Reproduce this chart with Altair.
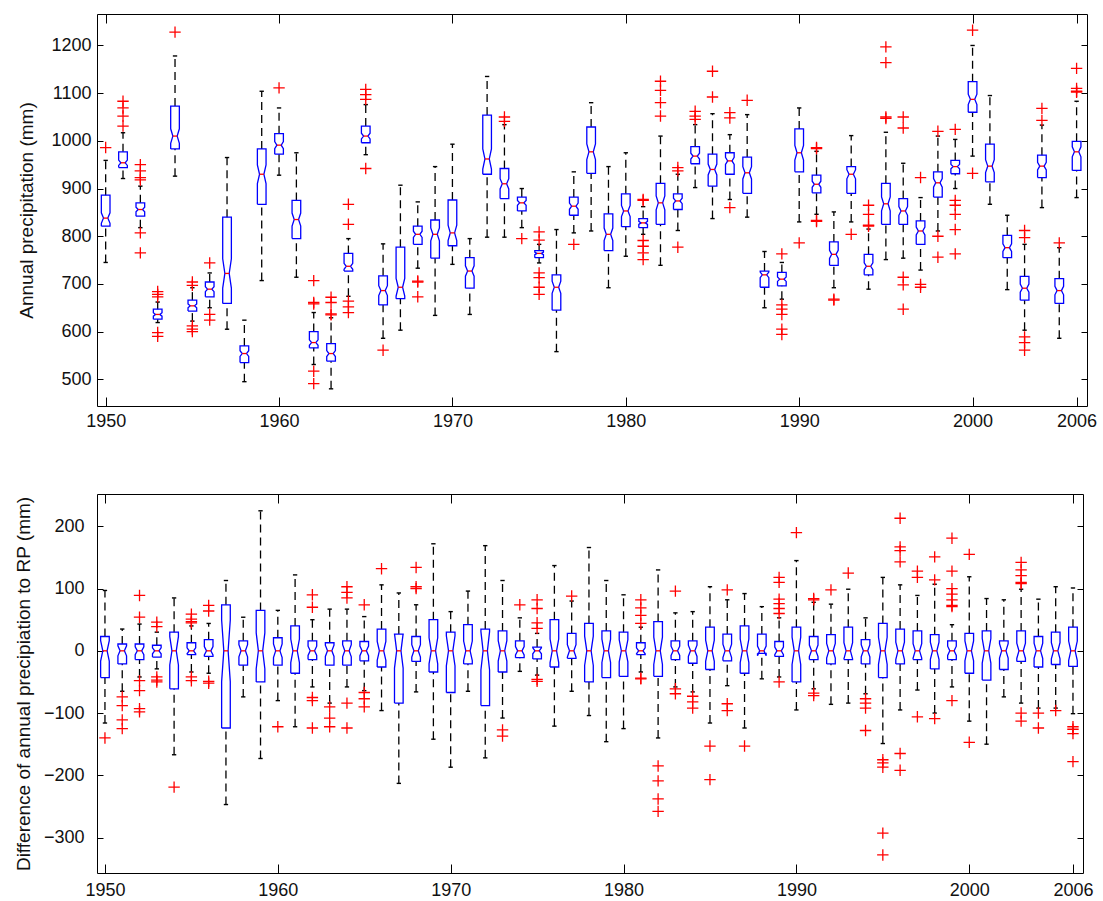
import altair as alt
import pandas as pd

years = list(range(1950, 2007))

# ---------------- top panel: annual precipitation (mm) ----------------
top_q1 = [821, 944, 842, 626, 983, 643, 673, 659, 535, 867,
          972, 795, 566, 538, 727, 996, 656, 669, 783, 754,
          780, 691, 930, 879, 853, 755, 645, 844, 932, 770,
          820, 818, 825, 856, 952, 905, 930, 890, 693, 696,
          935, 891, 739, 890, 719, 825, 825, 783, 882, 931,
          1060, 914, 755, 666, 923, 659, 938]
top_med = [838, 954, 856, 636, 1010, 654, 689, 722, 554, 930,
           991, 835, 577, 554, 737, 1010, 686, 693, 804, 804,
           807, 727, 962, 910, 870, 764, 693, 863, 977, 804,
           853, 828, 870, 874, 968, 940, 958, 933, 719, 710,
           975, 909, 762, 930, 737, 868, 853, 811, 912, 946,
           1087, 947, 776, 691, 947, 686, 977]
top_q3 = [886, 977, 870, 647, 1073, 666, 704, 840, 570, 983,
          1015, 875, 600, 575, 764, 1031, 717, 777, 821, 834,
          876, 755, 1054, 942, 882, 770, 719, 882, 1029, 847,
          889, 837, 911, 889, 988, 972, 975, 966, 727, 724,
          1025, 928, 788, 946, 762, 911, 879, 832, 935, 959,
          1124, 993, 802, 716, 970, 711, 999]
top_wlo = [745, 921, 818, 619, 926, 622, 650, 605, 495, 707,
           928, 714, 531, 480, 674, 971, 586, 603, 733, 634,
           741, 636, 798, 798, 818, 744, 558, 807, 811, 692,
           758, 804, 739, 812, 902, 837, 877, 840, 650, 668,
           830, 846, 692, 830, 689, 751, 754, 729, 811, 900,
           968, 867, 688, 603, 860, 586, 881]
top_whi = [959, 1017, 905, 662, 1178, 692, 723, 965, 624, 1104,
           1069, 975, 640, 629, 795, 1076, 784, 907, 872, 946,
           993, 795, 1135, 1034, 900, 783, 814, 935, 1080, 946,
           975, 862, 1010, 930, 1034, 1057, 1013, 1055, 768, 745,
           1069, 978, 851, 1011, 815, 1018, 953, 881, 1010, 1003,
           1200, 1095, 844, 783, 1033, 776, 1083]
top_out = [[986], [1083, 1069, 1052, 1031], [950, 937, 923, 918, 807, 765],
           [684, 678, 673, 598, 590], [1228], [704, 697, 612, 605, 600],
           [744, 636, 624], [], [], [],
           [1111], [], [707, 661, 658, 517, 491], [672, 661, 637, 635],
           [867, 825, 664, 652, 640], [1108, 1097, 1087, 942], [561], [],
           [706, 704, 673], [],
           [], [], [], [1050, 1041], [795], [809, 792, 723, 713, 693, 678],
           [], [783], [], [],
           [], [877, 875, 791, 779, 765, 751], [1125, 1106, 1080, 1052],
           [944, 937, 777], [1062, 1052, 1045], [1146, 1092], [1059, 1048, 860],
           [1085], [], [763, 656, 647, 636, 605, 594],
           [786], [986, 984, 833, 831], [668, 666], [804], [865, 846, 823, 821],
           [1197, 1164, 1050, 1047], [1050, 1027, 714, 698, 647], [923, 699, 693],
           [1020, 800, 756], [1024, 875, 865, 846, 814, 763],
           [1232, 932], [], [], [812, 797, 589, 577, 561], [1068, 1043], [786],
           [1152, 1110, 1104, 1102]]

# ---------------- bottom panel: difference to RP (mm) ----------------
bot_q1 = [-43, -21, -14, -10, -61, -6, -9, -124, -23, -50,
          -23, -36, -14, -23, -23, -16, -26, -84, -17, -34,
          -67, -21, -88, -34, -11, -13, -26, -12, -50, -43,
          -41, -6, -41, -14, -20, -30, -16, -36, -4, -9,
          -50, -14, -21, -14, -21, -43, -21, -14, -29, -14,
          -36, -47, -30, -17, -26, -22, -25]
bot_med = [0] * 57
bot_q3 = [23, 11, 11, 9, 30, 13, 18, 74, 16, 65,
          21, 40, 16, 13, 16, 15, 35, 27, 23, 50,
          30, 42, 35, 32, 16, 6, 50, 28, 44, 32,
          30, 13, 47, 16, 16, 38, 27, 40, 27, 15,
          38, 23, 26, 38, 18, 44, 35, 32, 26, 16,
          28, 32, 16, 32, 23, 30, 38]
bot_wlo = [-116, -65, -42, -29, -167, -34, -36, -247, -74, -173,
           -80, -122, -58, -84, -58, -64, -96, -213, -66, -142,
           -187, -65, -172, -108, -33, -39, -121, -65, -104, -146,
           -125, -34, -140, -58, -66, -116, -56, -124, -45, -42,
           -95, -61, -86, -84, -69, -149, -95, -63, -100, -58,
           -113, -150, -74, -84, -92, -92, -101]
bot_whi = [97, 35, 43, 30, 85, 40, 44, 113, 54, 225,
           65, 122, 50, 67, 67, 55, 106, 93, 74, 172,
           63, 96, 169, 113, 53, 28, 137, 80, 166, 113,
           90, 38, 130, 61, 63, 103, 82, 92, 71, 53,
           145, 78, 75, 99, 53, 118, 106, 89, 107, 42,
           119, 84, 82, 99, 83, 103, 101]
bot_out = [[-140], [-74, -88, -111, -125], [89, 54, -48, -64, -93, -98],
           [46, 39, -42, -47, -50], [-219], [59, 51, 47, 45, -42, -48],
           [73, 64, -49, -52], [], [], [],
           [-122], [], [90, 70, -75, -80, -124], [-90, -108, -122],
           [103, 94, 85, -84, -124], [74, -67, -77, -90], [132], [],
           [134, 103, 100], [],
           [], [], [], [-127, -137], [74], [82, 68, 45, 36, -46, -49],
           [], [88], [], [],
           [], [82, 69, 57, 44, -44, -45], [-185, -209, -238, -258],
           [96, -61, -69], [-73, -82, -92], [-153, -207], [98, -85, -96],
           [-153], [], [118, 110, 83, 76, 68, 60, -50],
           [190], [84, 82, -68, -72], [98], [125], [-77, -84, -92, -128],
           [-175, -180, -187, -293, -328], [213, 167, 161, 143, -165, -192],
           [128, 118, -106], [151, 114, -109], [181, 128, 100, 91, 82, 73, 71, -80],
           [155, -147], [], [], [142, 130, 121, 110, 108, -100, -113],
           [-100, -124], [-96], [-122, -126, -133, -178]]

x_ticks = [1950, 1960, 1970, 1980, 1990, 2000, 2006]
top_y_ticks = [500, 600, 700, 800, 900, 1000, 1100, 1200]
bot_y_ticks = [-300, -200, -100, 0, 100, 200]

HALF = 0.25       # half box width (years)
CAP = 0.125       # half whisker-cap width (years)
FONT = "Liberation Sans"


def panel(q1, med, q3, wlo, whi, outs, notch_k, ydom, yticks, ytitle,
          width, height, xdom, lab_pad_y, title_pad_y, lab_pad_x):
    stats = pd.DataFrame({"year": years, "q1": q1, "med": med, "q3": q3,
                          "wlo": wlo, "whi": whi})
    stats["c1"] = stats["year"] - CAP
    stats["c2"] = stats["year"] + CAP
    stats["m1"] = stats["year"] - HALF / 2
    stats["m2"] = stats["year"] + HALF / 2

    rows = []
    for yr, a, m, b in zip(years, q1, med, q3):
        n = notch_k * (b - a)
        pts = [(-HALF, a), (-HALF, m - n), (-HALF / 2, m), (-HALF, m + n),
               (-HALF, b), (HALF, b), (HALF, m + n), (HALF / 2, m),
               (HALF, m - n), (HALF, a), (-HALF, a)]
        for i, (dx, v) in enumerate(pts):
            rows.append({"year": yr, "ord": i, "px": yr + dx, "py": v})
    poly = pd.DataFrame(rows)

    orows = [{"year": yr, "v": v} for yr, vs in zip(years, outs) for v in vs]
    odf = pd.DataFrame(orows)

    xs = alt.Scale(domain=xdom, nice=False, zero=False)
    ys = alt.Scale(domain=ydom, nice=False, zero=False)

    ax_bottom = alt.Axis(orient="bottom", values=x_ticks, format="d", title=None,
                         tickSize=9, offset=-9, domain=False, grid=False,
                         labelPadding=lab_pad_x, tickColor="black")
    ax_top = alt.Axis(orient="top", values=x_ticks, labels=False, title=None,
                      tickSize=9, offset=-9, domain=False, grid=False,
                      tickColor="black")
    ay_left = alt.Axis(orient="left", values=yticks, format="d", title=ytitle,
                       tickSize=6, offset=-6, domain=False, grid=False,
                       labelPadding=lab_pad_y, titlePadding=title_pad_y,
                       tickColor="black")
    ay_right = alt.Axis(orient="right", values=yticks, labels=False, title=None,
                        tickSize=6, offset=-6, domain=False, grid=False,
                        tickColor="black")

    w_up = alt.Chart(stats).mark_rule(color="black", strokeWidth=1.3,
                                      strokeDash=[8, 5]).encode(
        x=alt.X("year:Q", scale=xs, axis=ax_top),
        y=alt.Y("q3:Q", scale=ys, axis=ay_right), y2="whi:Q")
    w_dn = alt.Chart(stats).mark_rule(color="black", strokeWidth=1.3,
                                      strokeDash=[8, 5]).encode(
        x=alt.X("year:Q", scale=xs, axis=None),
        y=alt.Y("wlo:Q", scale=ys, axis=None), y2="q1:Q")
    cap_up = alt.Chart(stats).mark_rule(color="black", strokeWidth=1.4).encode(
        x=alt.X("c1:Q", scale=xs, axis=None), x2="c2:Q",
        y=alt.Y("whi:Q", scale=ys, axis=None))
    cap_dn = alt.Chart(stats).mark_rule(color="black", strokeWidth=1.4).encode(
        x=alt.X("c1:Q", scale=xs, axis=None), x2="c2:Q",
        y=alt.Y("wlo:Q", scale=ys, axis=None))
    boxes = alt.Chart(poly).mark_line(color="#0000ff", strokeWidth=1.3).encode(
        x=alt.X("px:Q", scale=xs, axis=ax_bottom),
        y=alt.Y("py:Q", scale=ys, axis=ay_left),
        detail="year:N", order="ord:Q")
    meds = alt.Chart(stats).mark_rule(color="#ff0000", strokeWidth=1.3).encode(
        x=alt.X("m1:Q", scale=xs, axis=None), x2="m2:Q",
        y=alt.Y("med:Q", scale=ys, axis=None))
    pts = alt.Chart(odf).mark_point(shape="M-1,0L1,0M0,-1L0,1", size=130,
                                    color="#ff0000", filled=False,
                                    strokeWidth=1.3, opacity=1).encode(
        x=alt.X("year:Q", scale=xs, axis=None),
        y=alt.Y("v:Q", scale=ys, axis=None))

    return alt.layer(w_up, w_dn, cap_up, cap_dn, boxes, meds, pts).properties(
        width=width, height=height)


top = panel(top_q1, top_med, top_q3, top_wlo, top_whi, top_out, 0.17,
            [444, 1266], top_y_ticks, "Annual precipitation (mm)",
            990, 392, [1949.5, 2006.6], 6, 14, 6)
bottom = panel(bot_q1, bot_med, bot_q3, bot_wlo, bot_whi, bot_out, 0.25,
               [-357, 252], bot_y_ticks,
               "Difference of annual precipiation to RP (mm)",
               986, 379, [1949.54, 2006.58], 13, 10, 8)

chart = alt.vconcat(top, bottom, spacing=62).properties(
    padding={"left": 13, "top": 13, "right": 5, "bottom": 2},
    background="white",
).configure_view(
    stroke="black", strokeWidth=1
).configure_axis(
    labelFont=FONT, labelFontSize=18, labelColor="#111",
    titleFont=FONT, titleFontSize=19, titleFontWeight="normal",
    titleColor="#111", tickWidth=1
)

chart.save("out.html", embed_options={"renderer": "svg", "actions": False})
